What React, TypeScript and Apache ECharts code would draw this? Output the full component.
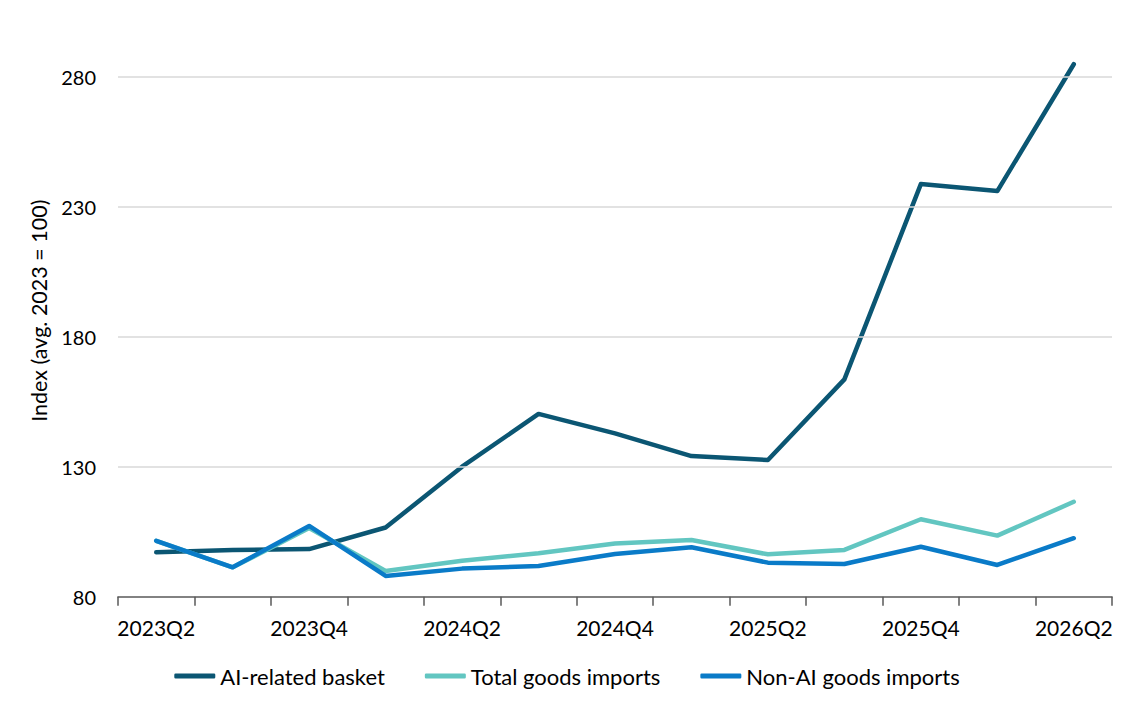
import React, { useEffect, useRef } from "react";
import * as echarts from "echarts";

const categories = [
  "2023Q2", "2023Q3", "2023Q4", "2024Q1", "2024Q2", "2024Q3", "2024Q4",
  "2025Q1", "2025Q2", "2025Q3", "2025Q4", "2026Q1", "2026Q2",
];
const aiBasket = [97.1, 98.0, 98.3, 106.6, 130.0, 150.3, 142.8, 134.1, 132.6, 163.6, 238.7, 236.0, 284.8];
const totalGoods = [101.5, 91.3, 106.4, 89.9, 93.8, 96.7, 100.5, 101.8, 96.3, 98.0, 109.8, 103.5, 116.5];
const nonAiGoods = [101.5, 91.3, 107.2, 88.0, 90.8, 91.8, 96.4, 99.0, 93.1, 92.6, 99.2, 92.2, 102.5];
const gridTicks = [130, 180, 230, 280];

const seriesNames = ["AI-related basket", "Total goods imports", "Non-AI goods imports"];
const seriesColors = ["#0B5673", "#62C6C1", "#0A7BC8"];
const seriesData = [aiBasket, totalGoods, nonAiGoods];

const FONT = "Lato, 'Noto Sans', sans-serif";

export default function App() {
  const ref = useRef<HTMLDivElement>(null);
  useEffect(() => {
    document.body.style.margin = "0";
    if (!ref.current) return;
    const chart = echarts.init(ref.current, undefined, { renderer: "svg" });
    const lines = seriesNames.map((name, i) => ({
      name,
      type: "line",
      data: seriesData[i],
      symbol: "none",
      z: 3 + i,
      lineStyle: { color: seriesColors[i], width: 4.5, cap: "round", join: "round" },
      itemStyle: { color: seriesColors[i] },
    }));
    chart.setOption({
      animation: false,
      textStyle: { fontFamily: FONT },
      grid: { left: 118, right: 22, top: 24.7, bottom: 112.3, containLabel: false },
      legend: {
        data: seriesNames,
        left: "center",
        top: 660,
        icon: "roundRect",
        itemWidth: 41,
        itemHeight: 5,
        itemGap: 40,
        textStyle: { fontFamily: FONT, fontSize: 22, color: "#000" },
      },
      xAxis: {
        type: "category",
        data: categories,
        boundaryGap: true,
        axisLine: { show: true, lineStyle: { color: "#595959", width: 1.5 } },
        axisTick: { show: true, interval: 0, length: 9, lineStyle: { color: "#595959", width: 1.5 } },
        axisLabel: { interval: 1, margin: 20, fontSize: 21, color: "#000", fontFamily: FONT },
        splitLine: { show: false },
      },
      yAxis: {
        type: "value",
        min: 80,
        max: 300,
        interval: 50,
        name: "Index (avg. 2023 = 100)",
        nameLocation: "middle",
        nameGap: 66,
        nameTextStyle: { fontSize: 21.5, color: "#000", fontFamily: FONT },
        axisLine: { show: false },
        axisTick: { show: false },
        axisLabel: {
          margin: 22,
          fontSize: 20,
          color: "#000",
          fontFamily: FONT,
          formatter: (v: number) => (v > 280 ? "" : String(v)),
        },
        splitLine: { show: false },
      },
      series: [
        {
          name: "grid",
          type: "line",
          data: categories.map(() => null),
          symbol: "none",
          z: 1,
          silent: true,
          markLine: {
            silent: true,
            symbol: ["none", "none"],
            label: { show: false },
            lineStyle: { color: "#D9D9D9", width: 1.5, type: "solid" },
            data: gridTicks.map((t) => ({ yAxis: t })),
          },
        },
        ...lines,
      ],
    });
    return () => chart.dispose();
  }, []);
  return <div ref={ref} style={{ width: 1134, height: 709 }} />;
}
